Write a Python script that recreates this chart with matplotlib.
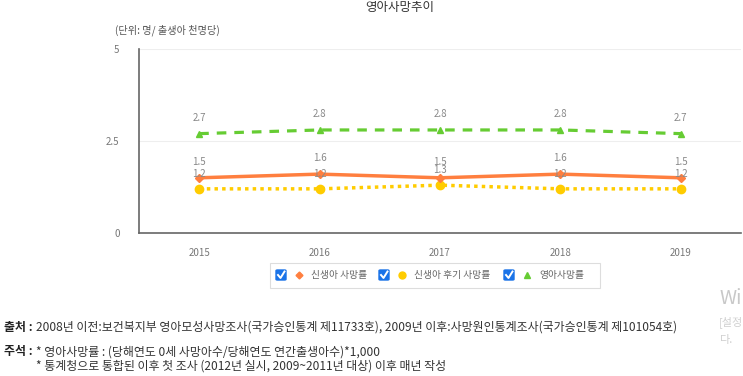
import matplotlib
matplotlib.use("Agg")
from matplotlib import pyplot as plt
from matplotlib.patches import Rectangle, FancyBboxPatch
from matplotlib.lines import Line2D

plt.rcParams['font.family'] = ['Noto Sans CJK KR', 'DejaVu Sans']

# data
years = ['2015', '2016', '2017', '2018', '2019']
neonatal = [1.5, 1.6, 1.5, 1.6, 1.5]        # 신생아 사망률
postneonatal = [1.2, 1.2, 1.3, 1.2, 1.2]    # 신생아 후기 사망률
infant = [2.7, 2.8, 2.8, 2.8, 2.7]          # 영아사망률
series_names = ['신생아 사망률', '신생아 후기 사망률', '영아사망률']
y_ticks = [0, 2.5, 5]
y_tick_labels = ['0', '2.5', '5']

W, H = 743, 376
fig = plt.figure(figsize=(W / 100, H / 100), dpi=100)


def px(x, y):
    # pixel coords (top-left origin) -> figure fraction
    return x / W, 1 - y / H


ax = fig.add_axes([139 / W, 1 - 233 / H, 602 / W, 184 / H])
xs = list(range(len(years)))

c_orange = '#ff7f3f'
c_yellow = '#ffcc00'
c_green = '#66cc33'
c_label = '#888888'

ax.plot(xs, postneonatal, color=c_yellow, lw=2.5, ls=(0, (1, 1.2)),
        marker='o', ms=6, zorder=3)
ax.plot(xs, neonatal, color=c_orange, lw=2.5, ls='-',
        marker='D', ms=4, zorder=4)
ax.plot(xs, infant, color=c_green, lw=2.3, ls=(0, (3, 2.5)),
        marker='^', ms=5, zorder=3)

for vals, off in [(infant, 8), (neonatal, 8), (postneonatal, 7)]:
    for x, v in zip(xs, vals):
        ax.annotate(f'{v:.1f}', (x, v), xytext=(0, off), textcoords='offset points',
                    ha='center', va='bottom', fontsize=7, color=c_label, zorder=5)

ax.set_xlim(-0.5, len(years) - 0.5)
ax.set_ylim(0, 5)
ax.set_xticks(xs)
ax.set_xticklabels(years)
ax.set_yticks(y_ticks)
ax.set_yticklabels(y_tick_labels)
ax.tick_params(axis='both', length=0, labelsize=7, labelcolor='#777777')
ax.tick_params(axis='x', pad=11)
ax.tick_params(axis='y', pad=14)
ax.grid(axis='y', color='#eeeeee', lw=0.8)
ax.set_axisbelow(True)
for s in ['top', 'right']:
    ax.spines[s].set_visible(False)
for s in ['left', 'bottom']:
    ax.spines[s].set_color('#666666')
    ax.spines[s].set_linewidth(1.2)

# title and unit
fig.text(*px(400, 8), '영아사망추이', ha='center', va='center', fontsize=9, color='#333333')
fig.text(*px(115, 30), '(단위: 명/ 출생아 천명당)', ha='left', va='center', fontsize=7.3,
         color='#555555')

# legend with checkboxes
x0, y0 = px(270, 288)
x1, y1 = px(600, 263)
fig.patches.append(Rectangle((x0, y0), x1 - x0, y1 - y0, transform=fig.transFigure,
                             facecolor='white', edgecolor='#dddddd', lw=0.8))
legend_items = [
    (281, c_orange, 'D', 3.5, series_names[0]),
    (384, c_yellow, 'o', 5, series_names[1]),
    (509, c_green, '^', 4, series_names[2]),
]
for cx, col, mk, ms, name in legend_items:
    bx, by = px(cx - 5, 280)
    fig.patches.append(FancyBboxPatch((bx, by), 10 / W, 10 / H, transform=fig.transFigure,
                                      boxstyle='round,pad=0,rounding_size=0.002',
                                      facecolor='#1a73e8', edgecolor='#1a73e8'))
    fig.lines.append(Line2D([(cx - 3) / W, (cx - 0.5) / W, (cx + 3.5) / W],
                            [1 - 275 / H, 1 - 278 / H, 1 - 271.5 / H],
                            transform=fig.transFigure, color='white', lw=1.4))
    mx, my = px(cx + 18, 275)
    fig.lines.append(Line2D([mx], [my], transform=fig.transFigure, marker=mk, ms=ms,
                            color=col, lw=0))
    fig.text(*px(cx + 30, 275), name, ha='left', va='center', fontsize=7, color='#666666')

# footer
fs = 8.6
fig.text(*px(4, 327), '출처 :', ha='left', va='center', fontsize=fs, fontweight='bold',
         color='#222222')
fig.text(*px(36, 327), '2008년 이전:보건복지부 영아모성사망조사(국가승인통계 제11733호), '
         '2009년 이후:사망원인통계조사(국가승인통계 제101054호)',
         ha='left', va='center', fontsize=fs, color='#333333')
fig.text(*px(4, 352), '주석 :', ha='left', va='center', fontsize=fs, fontweight='bold',
         color='#222222')
fig.text(*px(36, 352), '* 영아사망률 : (당해연도 0세 사망아수/당해연도 연간출생아수)*1,000',
         ha='left', va='center', fontsize=fs, color='#333333')
fig.text(*px(36, 366), '* 통계청으로 통합된 이후 첫 조사 (2012년 실시, 2009~2011년 대상) 이후 매년 작성',
         ha='left', va='center', fontsize=fs, color='#333333')

# screen watermark
fig.text(*px(719, 298), 'Wi', ha='left', va='center', fontsize=14, color='#c8c8c8')
fig.text(*px(719, 322), '[설정', ha='left', va='center', fontsize=8, color='#d0d0d0')
fig.text(*px(719, 340), '다.', ha='left', va='center', fontsize=8, color='#d0d0d0')

fig.savefig('out.png', dpi=100)
